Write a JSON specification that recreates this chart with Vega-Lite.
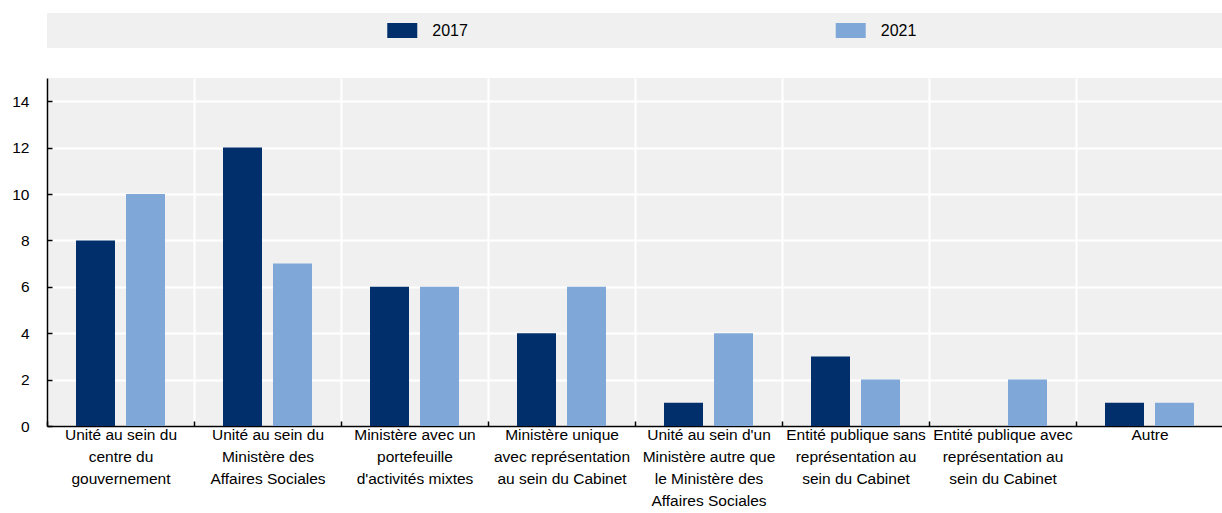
{
  "$schema": "https://vega.github.io/schema/vega-lite/v6.json",
  "padding": {"left": 11, "top": 13, "right": 0, "bottom": 0},
  "autosize": {"type": "pad"},
  "background": "white",
  "config": {
    "font": "Liberation Sans",
    "view": {"stroke": null, "fill": "#f0f0f0"},
    "concat": {"spacing": 30}
  },
  "datasets": {
    "years": [{"year": "2017"}, {"year": "2021"}],
    "counts": [
      {"category": "Unité au sein du|centre du|gouvernement", "year": "2017", "value": 8},
      {"category": "Unité au sein du|centre du|gouvernement", "year": "2021", "value": 10},
      {"category": "Unité au sein du|Ministère des|Affaires Sociales", "year": "2017", "value": 12},
      {"category": "Unité au sein du|Ministère des|Affaires Sociales", "year": "2021", "value": 7},
      {"category": "Ministère avec un|portefeuille|d'activités mixtes", "year": "2017", "value": 6},
      {"category": "Ministère avec un|portefeuille|d'activités mixtes", "year": "2021", "value": 6},
      {"category": "Ministère unique|avec représentation|au sein du Cabinet", "year": "2017", "value": 4},
      {"category": "Ministère unique|avec représentation|au sein du Cabinet", "year": "2021", "value": 6},
      {"category": "Unité au sein d'un|Ministère autre que|le Ministère des|Affaires Sociales", "year": "2017", "value": 1},
      {"category": "Unité au sein d'un|Ministère autre que|le Ministère des|Affaires Sociales", "year": "2021", "value": 4},
      {"category": "Entité publique sans|représentation au|sein du Cabinet", "year": "2017", "value": 3},
      {"category": "Entité publique sans|représentation au|sein du Cabinet", "year": "2021", "value": 2},
      {"category": "Entité publique avec|représentation au|sein du Cabinet", "year": "2021", "value": 2},
      {"category": "Autre", "year": "2017", "value": 1},
      {"category": "Autre", "year": "2021", "value": 1}
    ]
  },
  "vconcat": [
    {
      "width": 1175,
      "height": 35,
      "data": {"name": "years"},
      "encoding": {
        "x": {"field": "year", "type": "nominal", "scale": {"type": "point", "padding": 0.81}, "axis": null},
        "color": {"field": "year", "type": "nominal", "scale": {"domain": ["2017", "2021"], "range": ["#002f6c", "#7fa8d9"]}, "legend": null}
      },
      "layer": [
        {"mark": {"type": "tick", "orient": "horizontal", "size": 30, "thickness": 15, "xOffset": -8, "opacity": 1}},
        {"mark": {"type": "text", "align": "left", "baseline": "middle", "dx": 22, "fontSize": 16, "color": "#000000"}, "encoding": {"text": {"field": "year"}, "color": {"value": "#000000"}}}
      ]
    },
    {
      "width": 1176,
      "height": 348,
      "data": {"name": "counts"},
      "mark": {"type": "bar"},
      "encoding": {
        "x": {
          "field": "category", "type": "nominal", "sort": null,
          "scale": {"paddingInner": 0, "paddingOuter": 0},
          "axis": {
            "title": null, "labelAngle": 0, "labelExpr": "datum.value ? split(datum.value, '|') : ''",
            "labelFontSize": 15.5, "labelLineHeight": 22, "labelColor": "#000000", "labelPadding": 6,
            "labelBaseline": "top",
            "tickBand": "extent", "tickColor": "#000000", "tickSize": -5, "tickWidth": 1.5,
            "domainColor": "#000000", "domainWidth": 1.5,
            "grid": true, "gridColor": "#ffffff", "gridWidth": 2
          }
        },
        "y": {
          "field": "value", "type": "quantitative",
          "scale": {"domain": [0, 15]},
          "axis": {
            "title": null, "values": [0, 2, 4, 6, 8, 10, 12, 14],
            "labelFontSize": 15.5, "labelColor": "#000000", "labelPadding": 23,
            "tickColor": "#000000", "tickSize": -5, "tickWidth": 1.5,
            "domainColor": "#000000", "domainWidth": 1.5,
            "grid": true, "gridColor": "#ffffff", "gridWidth": 2
          }
        },
        "xOffset": {"field": "year", "type": "nominal", "scale": {"domain": ["2017", "2021"], "paddingInner": 0.22, "paddingOuter": 0.58}},
        "color": {"field": "year", "type": "nominal", "scale": {"domain": ["2017", "2021"], "range": ["#002f6c", "#7fa8d9"]}, "legend": null}
      }
    }
  ]
}
